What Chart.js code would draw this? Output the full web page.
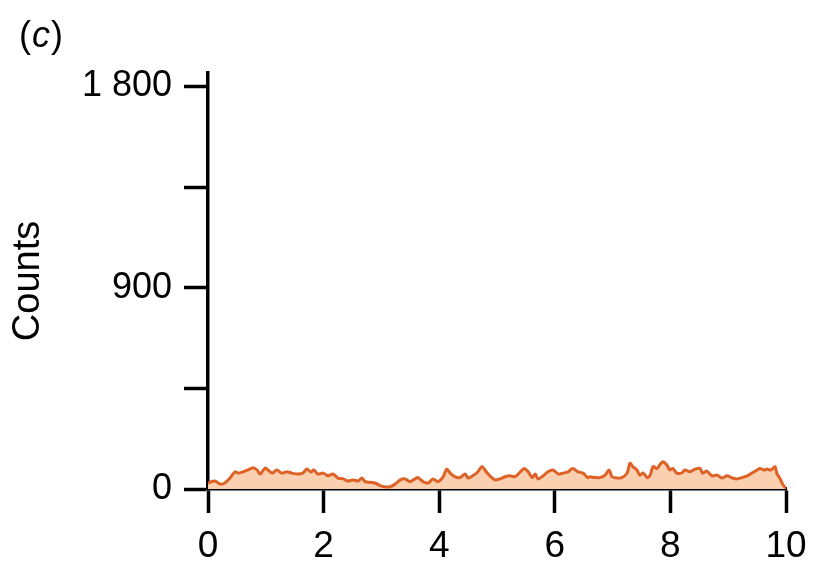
<!DOCTYPE html>
<html>
<head>
<meta charset="utf-8">
<script src="https://cdn.jsdelivr.net/npm/chart.js@4"></script>
<style>
  body { margin: 0; background: #fff; }
  canvas { display: block; }
</style>
</head>
<body>
<canvas id="chart" width="816" height="563"></canvas>
<script>
// x position of each sample (0..10)
const xPositions = [
  0, 0.03, 0.12, 0.21, 0.29, 0.38, 0.47, 0.52, 0.61, 0.69, 0.78, 0.85, 0.90, 0.99,
  1.04, 1.11, 1.19, 1.28, 1.37, 1.45, 1.56, 1.64, 1.71, 1.78, 1.83, 1.90, 1.99,
  2.08, 2.16, 2.25, 2.34, 2.42, 2.51, 2.60, 2.66, 2.72, 2.80, 2.89, 2.98,
  3.06, 3.15, 3.24, 3.32, 3.41, 3.49, 3.58, 3.63, 3.72, 3.81, 3.89, 3.98,
  4.07, 4.13, 4.19, 4.27, 4.36, 4.45, 4.50, 4.58, 4.67, 4.74, 4.83, 4.91, 4.97,
  5.05, 5.14, 5.22, 5.31, 5.40, 5.47, 5.54, 5.61, 5.66, 5.71, 5.80, 5.88, 5.97,
  6.06, 6.14, 6.23, 6.31, 6.40, 6.49, 6.57, 6.61, 6.70, 6.78, 6.87, 6.94, 6.99,
  7.08, 7.16, 7.25, 7.30, 7.35, 7.42, 7.47, 7.53, 7.60, 7.65, 7.70, 7.77, 7.82, 7.87, 7.94, 7.99,
  8.04, 8.11, 8.20, 8.25, 8.34, 8.43, 8.51, 8.56, 8.63, 8.72, 8.81, 8.89, 8.98,
  9.07, 9.15, 9.24, 9.33, 9.41, 9.50, 9.55, 9.62, 9.67, 9.74, 9.81, 9.84, 9.90, 9.95, 10.0
];
const counts = [
  25, 30, 36, 22, 27, 49, 77, 71, 77, 85, 95, 85, 67, 94,
  85, 71, 85, 71, 77, 71, 67, 71, 89, 76, 85, 67, 71,
  59, 67, 49, 45, 36, 40, 36, 49, 33, 30, 27, 15,
  10, 10, 22, 40, 45, 33, 45, 51, 33, 27, 45, 33,
  55, 89, 71, 55, 51, 67, 49, 59, 77, 100, 71, 51, 40,
  45, 55, 59, 55, 76, 92, 77, 51, 67, 45, 59, 77, 85,
  67, 71, 77, 92, 77, 71, 51, 55, 51, 51, 62, 85, 55,
  49, 51, 71, 115, 100, 85, 62, 71, 51, 62, 100, 92, 110, 122, 107, 85,
  92, 71, 72, 85, 77, 89, 92, 71, 80, 59, 62, 49, 59,
  49, 45, 51, 59, 71, 85, 92, 85, 89, 85, 100, 71, 45, 18, 3
];
const yTickValues = [0, 450, 900, 1350, 1800];
const yTickLabels = ['0', '', '900', '', '1 800'];
const xTickValues = [0, 2, 4, 6, 8, 10];

const FONT = "'Liberation Sans', Arial, Helvetica, sans-serif";

// "(c)" panel letter, upright brackets and italic c
const panelLabel = {
  id: 'panelLabel',
  afterDraw(chart) {
    const ctx = chart.ctx;
    ctx.save();
    ctx.fillStyle = '#000';
    ctx.textBaseline = 'alphabetic';
    let x = 19;
    const y = 47;
    ctx.font = '36px ' + FONT;
    ctx.fillText('(', x, y);
    x += ctx.measureText('(').width + 1;
    ctx.font = 'italic 36px ' + FONT;
    ctx.fillText('c', x, y);
    x += ctx.measureText('c').width + 1;
    ctx.font = '36px ' + FONT;
    ctx.fillText(')', x, y);
    ctx.restore();
  }
};

new Chart(document.getElementById('chart'), {
  type: 'line',
  data: {
    datasets: [{
      data: xPositions.map((x, i) => ({ x: x, y: counts[i] })),
      borderColor: 'rgb(222, 98, 38)',
      backgroundColor: 'rgb(250, 208, 176)',
      borderWidth: 3,
      pointRadius: 0,
      tension: 0.3,
      fill: 'origin'
    }]
  },
  options: {
    responsive: false,
    animation: false,
    layout: { padding: { top: 73, right: 30, left: 0, bottom: 0 } },
    plugins: { legend: { display: false }, tooltip: { enabled: false } },
    scales: {
      x: {
        type: 'linear',
        min: 0,
        max: 10,
        afterBuildTicks: (scale) => { scale.ticks = xTickValues.map(v => ({ value: v })); },
        afterFit: (scale) => {
          scale.height = 74;
          scale.paddingLeft = 0;
          scale.paddingRight = 0;
        },
        grid: { drawOnChartArea: false, drawTicks: true, tickLength: 24, tickWidth: 3.5, tickColor: '#000' },
        border: { display: true, color: '#000', width: 3.5 },
        ticks: { color: '#000', font: { family: FONT, size: 37 }, padding: 12, maxRotation: 0 }
      },
      y: {
        min: 0,
        max: 1860,
        afterBuildTicks: (scale) => { scale.ticks = yTickValues.map(v => ({ value: v })); },
        afterFit: (scale) => { scale.width = 208; },
        grid: { drawOnChartArea: false, drawTicks: true, tickLength: 24, tickWidth: 3.5, tickColor: '#000' },
        border: { display: true, color: '#000', width: 3.5 },
        ticks: {
          color: '#000',
          font: { family: FONT, size: 36 },
          padding: 12,
          callback: (v) => yTickLabels[yTickValues.indexOf(v)] ?? ''
        },
        title: {
          display: true,
          text: 'Counts',
          color: '#000',
          font: { family: FONT, size: 38 },
          padding: { top: 6, bottom: 0 }
        }
      }
    }
  },
  plugins: [panelLabel]
});
</script>
</body>
</html>
